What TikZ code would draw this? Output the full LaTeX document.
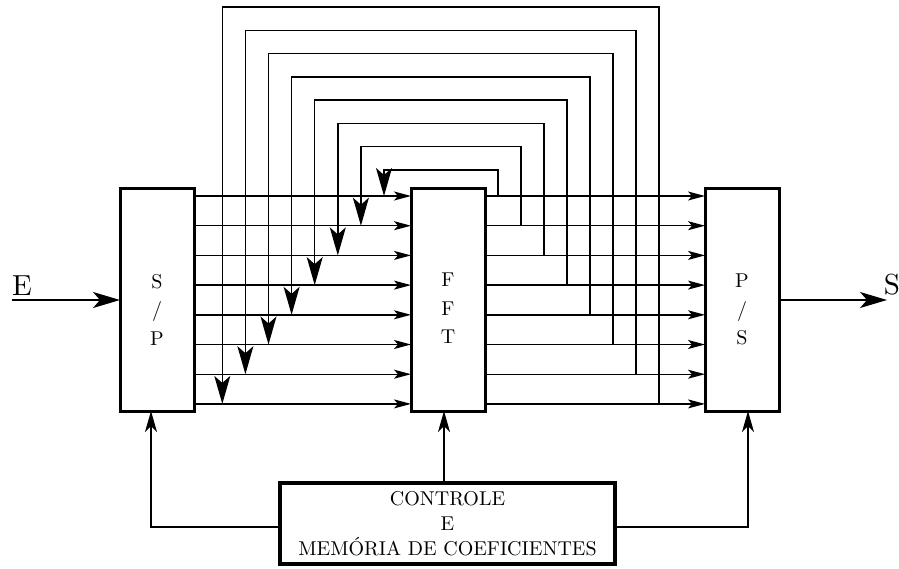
\documentclass[tikz,border=0pt]{standalone}
\usepackage{fontspec}
\setmainfont{lmroman10-regular}[Extension=.otf]
\usetikzlibrary{arrows.meta,calc}
\begin{document}
\begin{tikzpicture}[x=1pt,y=-1pt,
  blockbox/.style={draw, line width=3pt, minimum width=74pt, minimum height=223pt, inner sep=0pt, outer sep=0pt},
  ctrlbox/.style={draw, line width=3.5pt, minimum width=335pt, minimum height=81pt, inner sep=0pt, outer sep=0pt, align=center, font=\fontsize{20}{25}\selectfont},
  boxtext/.style={align=center, inner sep=0pt, font=\fontsize{20}{28.5}\selectfont},
  iolabel/.style={inner sep=0pt, font=\fontsize{29}{30}\selectfont},
  wire/.style={line width=1.4pt},
  harrow/.style={wire, -{Stealth[length=17pt,width=9pt,inset=4pt]}},
  varrow/.style={wire, -{Stealth[length=28pt,width=16pt,inset=7pt]}},
  bigarrow/.style={wire, -{Stealth[length=27pt,width=16pt,inset=7pt]}},
  uparrow/.style={wire, -{Stealth[length=21pt,width=12pt,inset=6pt]}}
]
\useasboundingbox (0,0) rectangle (899,568);

\node[blockbox] (sp) at (157,299.5) {};
\node[blockbox] (fft) at (448,299.5) {};
\node[blockbox] (ps) at (742,299.5) {};
\node[boxtext] (sptext) at ([yshift=-10pt]sp.center) {S\\/\\P};
\node[boxtext] (ffttext) at ([yshift=-9pt]fft.center) {F\\F\\T};
\node[boxtext] (pstext) at ([yshift=-10pt]ps.center) {P\\/\\S};

\node[ctrlbox] (ctrl) at (447.5,523.5) {CONTROLE\\E\\MEMÓRIA DE COEFICIENTES};

\coordinate (ein) at (12,300);
\coordinate (sout) at (887,300);
\node[iolabel] (elabel) at (22,286) {E};
\node[iolabel] (slabel) at (892,285) {S};
\draw[bigarrow] (ein) -- (sp.west |- ein);
\draw[bigarrow] (ps.east |- sout) -- (sout);

\foreach \k in {1,...,8} {
  \pgfmathsetmacro\yk{196+29.7*(\k-1)}
  \pgfmathsetmacro\xr{498+23*(\k-1)}
  \pgfmathsetmacro\xl{384-23.1*(\k-1)}
  \pgfmathsetmacro\yt{170-23.3*(\k-1)}
  \draw[harrow] (sp.east |- 0,\yk) -- (fft.west |- 0,\yk);
  \draw[harrow] (fft.east |- 0,\yk) -- (ps.west |- 0,\yk);
  \draw[varrow] (\xr,\yk) |- (\xl,\yt) -- (\xl,\yk);
}

\draw[uparrow] ([yshift=-3.5pt]ctrl.west) -| ([xshift=-6pt]sp.south);
\draw[uparrow] ([xshift=-4pt]fft.south |- ctrl.north) -- ([xshift=-4pt]fft.south);
\draw[uparrow] ([yshift=-3.5pt]ctrl.east) -| ([xshift=6pt]ps.south);
\end{tikzpicture}
\end{document}
